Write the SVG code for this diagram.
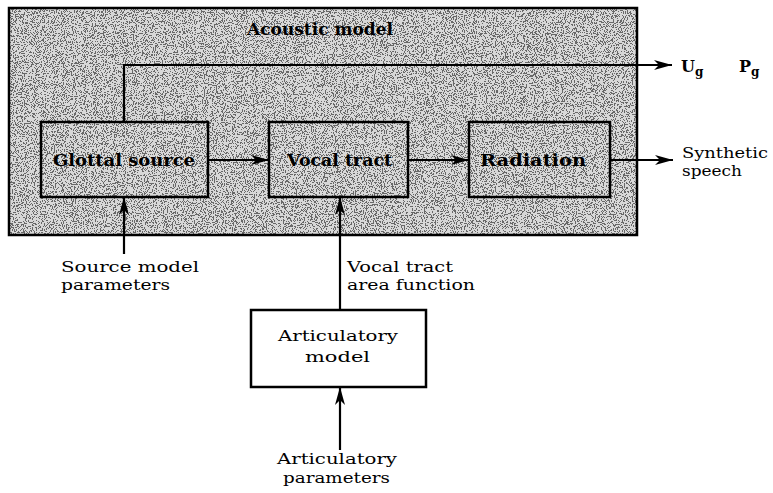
<svg xmlns="http://www.w3.org/2000/svg" width="773" height="493" viewBox="0 0 773 493">
<style>
.box{fill:none;stroke:#000;stroke-width:2.5}
.ln{fill:none;stroke:#000;stroke-width:2.2}
.t{font-family:"DejaVu Serif","Liberation Serif",serif;font-size:15px;fill:#000}
.tb{font-family:"DejaVu Serif","Liberation Serif",serif;font-size:16px;fill:#000;font-weight:bold}
</style>
<defs>
<filter id="noise" x="0" y="0" width="100%" height="100%">
<feTurbulence type="fractalNoise" baseFrequency="0.9" numOctaves="2" seed="3" result="n"/>
<feColorMatrix in="n" type="matrix" values="0 0 0 0 0  0 0 0 0 0  0 0 0 0 0  1.2 0 0 0 -0.1" result="a"/>
<feComponentTransfer in="a" result="d"><feFuncA type="discrete" tableValues="0 0 0 0 0.8 0.8 0.8"/></feComponentTransfer>
<feFlood flood-color="#d8d8d8" result="bg"/>
<feComposite in="d" in2="bg" operator="over" result="m"/>
<feComposite in="m" in2="SourceGraphic" operator="in"/>
</filter>
<marker id="ah" viewBox="0 0 18 10" refX="18" refY="5" markerWidth="18" markerHeight="10" markerUnits="userSpaceOnUse" orient="auto">
<path d="M0,0 L18,5 L0,10 L5,5 Z" fill="#000"/>
</marker>
</defs>
<g id="acoustic-model">
<rect x="9" y="8" width="628" height="227" fill="#000" filter="url(#noise)"/>
<rect x="9" y="8" width="628" height="227" class="box"/>
<text x="247" y="35" class="tb" textLength="146" lengthAdjust="spacingAndGlyphs">Acoustic model</text>
</g>
<g id="glottal-source">
<rect x="41" y="122" width="167" height="75" class="box"/>
<text x="53" y="166" class="tb" textLength="142" lengthAdjust="spacingAndGlyphs">Glottal source</text>
</g>
<g id="vocal-tract">
<rect x="269" y="122" width="139" height="75" class="box"/>
<text x="287" y="166" class="tb" textLength="105" lengthAdjust="spacingAndGlyphs">Vocal tract</text>
</g>
<g id="radiation">
<rect x="469" y="122" width="141" height="75" class="box"/>
<text x="480" y="166" class="tb" textLength="106" lengthAdjust="spacingAndGlyphs">Radiation</text>
</g>
<g id="articulatory-model">
<rect x="251" y="310" width="175" height="77" class="box"/>
<text x="278" y="341" class="t" textLength="120" lengthAdjust="spacingAndGlyphs" font-size="16">Articulatory</text>
<text x="305" y="362" class="t" textLength="65" lengthAdjust="spacingAndGlyphs" font-size="16">model</text>
</g>
<g id="connectors">
<path d="M124,122 V65 H672" class="ln" marker-end="url(#ah)"/>
<path d="M208,160 H269" class="ln" marker-end="url(#ah)"/>
<path d="M408,160 H469" class="ln" marker-end="url(#ah)"/>
<path d="M610,160 H673" class="ln" marker-end="url(#ah)"/>
<path d="M124,254 V197" class="ln" marker-end="url(#ah)"/>
<path d="M340,310 V197" class="ln" marker-end="url(#ah)"/>
<path d="M340,450 V387" class="ln" marker-end="url(#ah)"/>
</g>
<g id="labels">
<text x="681" y="72" class="tb" font-size="17">U<tspan font-size="12" dy="4">g</tspan></text>
<text x="739" y="72" class="tb" font-size="17">P<tspan font-size="12" dy="4">g</tspan></text>
<text x="682" y="158" class="t" textLength="86" lengthAdjust="spacingAndGlyphs">Synthetic</text>
<text x="682" y="176" class="t" textLength="60" lengthAdjust="spacingAndGlyphs">speech</text>
<text x="61" y="272" class="t" textLength="138" lengthAdjust="spacingAndGlyphs">Source model</text>
<text x="61" y="290" class="t" textLength="109" lengthAdjust="spacingAndGlyphs">parameters</text>
<text x="347" y="272" class="t" textLength="106" lengthAdjust="spacingAndGlyphs">Vocal tract</text>
<text x="347" y="290" class="t" textLength="128" lengthAdjust="spacingAndGlyphs">area function</text>
<text x="277" y="464" class="t" textLength="120" lengthAdjust="spacingAndGlyphs">Articulatory</text>
<text x="283" y="483" class="t" textLength="107" lengthAdjust="spacingAndGlyphs">parameters</text>
</g>
</svg>
